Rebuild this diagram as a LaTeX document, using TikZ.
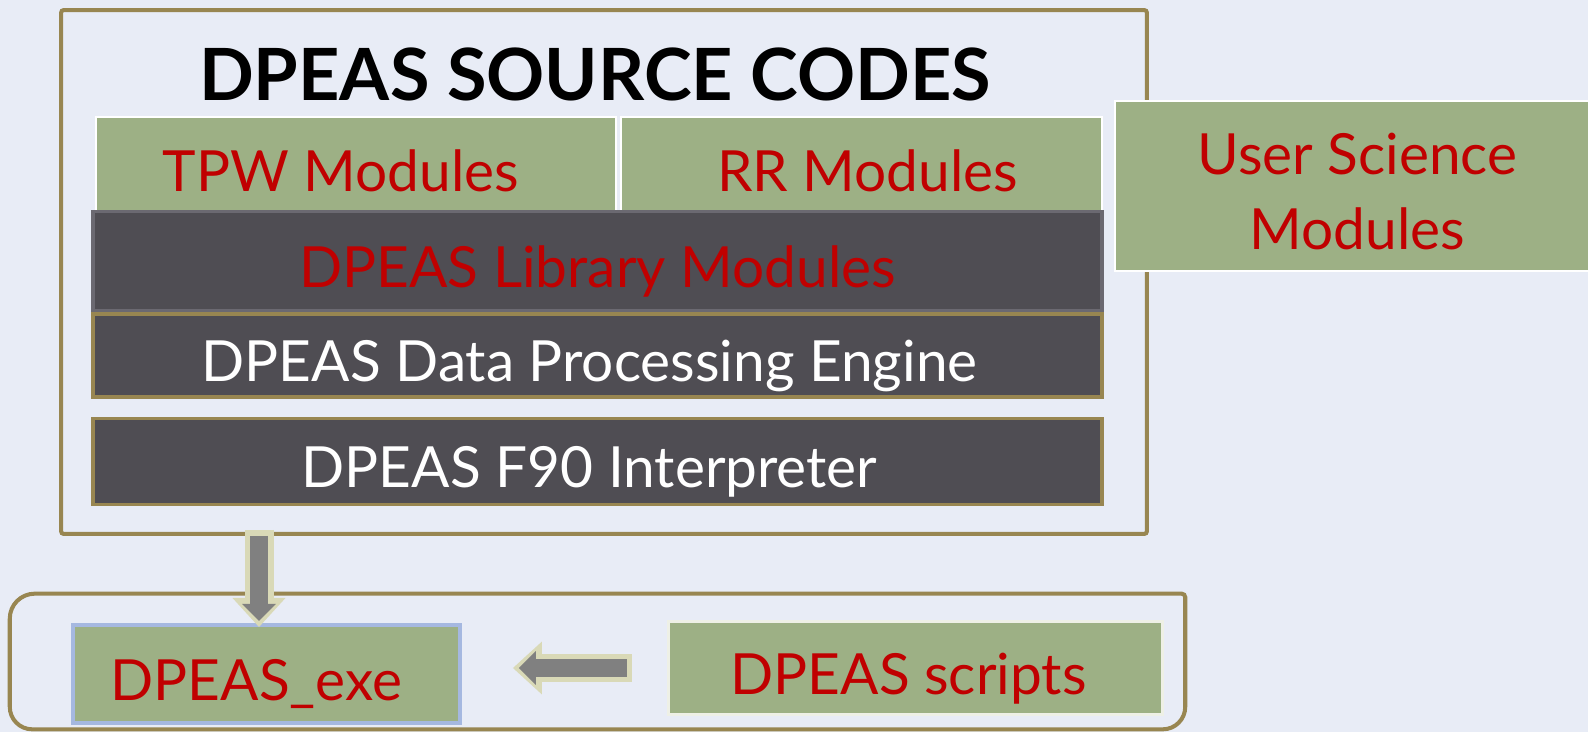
\documentclass[tikz,border=0pt]{standalone}
\usepackage{fontspec}
\setmainfont{Lato}
\usetikzlibrary{positioning,arrows.meta,calc}

\definecolor{pagebg}{HTML}{E8ECF6}
\definecolor{olivebrd}{HTML}{988651}
\definecolor{modgreen}{HTML}{9DB085}
\definecolor{modred}{HTML}{C00000}
\definecolor{enginegray}{HTML}{4F4D53}
\definecolor{librarybrd}{HTML}{6B6971}
\definecolor{exeblue}{HTML}{A5B8E0}
\definecolor{arrowfill}{HTML}{808080}
\definecolor{arrowbrd}{HTML}{D9D9B7}
\definecolor{scriptbrd}{HTML}{EEF0E6}

\begin{document}
\begin{tikzpicture}[
    x=0.02cm, y=-0.02cm,
    boxtext/.style={font=\fontsize{32.3}{43}\selectfont, text height=29.8pt, text depth=0pt, inner sep=0pt, align=center},
    module/.style={boxtext, rectangle, draw=white, line width=1.2pt, fill=modgreen, text=modred},
    core/.style={boxtext, rectangle, draw=olivebrd, line width=2pt, fill=enginegray, text=white, minimum width=20.18cm},
    frame/.style={rectangle, draw=olivebrd, line width=2.3pt, inner sep=0pt},
    fatout/.style={draw=arrowbrd, line width=0.58cm, -{Triangle[length=0.58cm, width=1.06cm, line width=0pt]}},
    fatin/.style={draw=arrowfill, line width=0.36cm, -{Triangle[length=0.34cm, width=0.68cm, line width=0pt]}}
]

% Page
\fill[pagebg] (0,0) rectangle (1588,732);
\useasboundingbox (0,0) rectangle (1588,732);

% Source codes frame
\node[frame, rounded corners=1.5pt, minimum width=21.72cm, minimum height=10.48cm] (src) at (604,272) {};
\node[font=\fontsize{41}{48}\selectfont\bfseries, anchor=base] (title) at (595,101) {DPEAS SOURCE CODES};

% Science modules
\node[module, minimum width=10.4cm, minimum height=1.92cm] (tpw) at (356,165) {TPW Modules\hspace*{0.6cm}};
\node[module, minimum width=9.62cm, minimum height=1.92cm, right=0.06cm of tpw] (rr) {\hspace*{0.24cm}RR Modules};

% Engine layers
\node[core, minimum height=1.66cm] (engine) at (597.5,355.5) {DPEAS Data Processing Engine\hspace*{0.32cm}};
\node[core, draw=librarybrd, text=modred, minimum height=1.98cm, above=0pt of engine] (library) {DPEAS Library Modules};
\node[core, minimum height=1.72cm, below=0.36cm of engine] (f90) {DPEAS F90 Interpreter\hspace*{0.32cm}};

% User modules
\node[module, text height={}, text depth={}, minimum width=9.7cm, minimum height=3.4cm] (user) at (1357.5,186) {\rule{0pt}{30pt}User Science\\Modules};

% Run frame
\node[rectangle, inner sep=0pt, minimum width=23.5cm, minimum height=2.7cm] (run) at (597.5,661.5) {};
\draw[olivebrd, line width=2.3pt, rounded corners=0.5cm] (run.south west) -- (run.north west)
    [rounded corners=2pt] -- (run.north east) [rounded corners=0.45cm] -- (run.south east) -- cycle;
\node[module, draw=exeblue, line width=2.3pt, minimum width=7.74cm, minimum height=1.96cm] (exe) at (266.5,674) {DPEAS\_exe\hspace*{0.4cm}};
\node[module, draw=scriptbrd, line width=1.7pt, minimum width=9.9cm, minimum height=1.88cm] (scripts) at (915.5,668) {DPEAS scripts\hspace*{0.28cm}};

% Arrows
\coordinate (dropx) at (259,0);
\draw[fatout, shorten <=-0.12cm, shorten >=-0.08cm] (src.south -| dropx) -- (exe.north -| dropx);
\draw[fatin, shorten >=0.04cm] (src.south -| dropx) -- (exe.north -| dropx);
\draw[fatout, shorten <=0.7cm, shorten >=1.02cm] (scripts.west) -- (exe.east |- scripts.west);
\draw[fatin, shorten <=0.8cm, shorten >=1.14cm] (scripts.west) -- (exe.east |- scripts.west);

\end{tikzpicture}
\end{document}
